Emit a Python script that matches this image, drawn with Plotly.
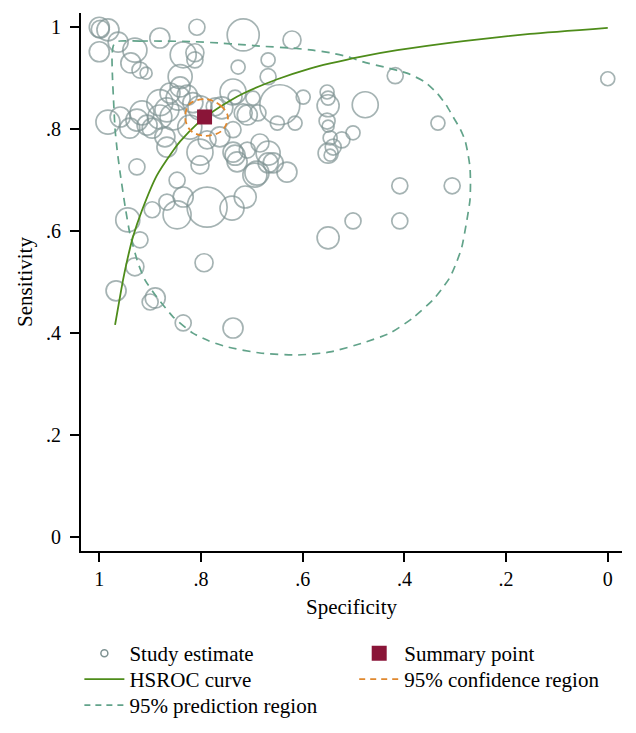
import plotly.graph_objects as go

# ---- Study estimates (specificity, sensitivity, relative study weight) ----
study_spec = [1.000, 0.998, 0.983, 1.000, 0.963, 0.930, 0.938, 0.920, 0.908, 0.881,
              0.808, 0.835, 0.812, 0.812, 0.841, 0.841, 0.861, 0.881, 0.867, 0.845,
              0.827, 0.816, 0.855, 0.916, 0.926, 0.906, 0.881, 0.983, 0.940, 0.959,
              0.896, 0.871, 0.822, 0.717, 0.621, 0.727, 0.668, 0.668, 0.737, 0.733,
              0.698, 0.645, 0.599, 0.552, 0.550, 0.550, 0.717, 0.688, 0.650, 0.615,
              0.552, 0.550, 0.546, 0.501, 0.477, 0.418, 0.000, 0.334, 0.523, 0.540,
              0.409, 0.306, 0.501, 0.409, 0.550, 0.550, 0.546, 0.694, 0.668, 0.631,
              0.733, 0.709, 0.788, 0.739, 0.713, 0.794, 0.926, 0.867, 0.847, 0.835,
              0.867, 0.896, 0.847, 0.944, 0.920, 0.930, 0.967, 0.890, 0.900, 0.835,
              0.737, 0.802, 0.802, 0.737, 0.729, 0.684, 0.668, 0.658, 0.690, 0.763,
              0.709, 0.737, 0.788, 0.802, 0.772, 0.759]
study_sens = [1.000, 0.996, 0.995, 0.952, 0.971, 0.955, 0.930, 0.916, 0.910, 0.979,
              1.000, 0.946, 0.950, 0.936, 0.903, 0.883, 0.871, 0.852, 0.838, 0.861,
              0.867, 0.852, 0.824, 0.832, 0.818, 0.808, 0.824, 0.814, 0.802, 0.824,
              0.802, 0.785, 0.804, 0.985, 0.975, 0.922, 0.936, 0.903, 0.873, 0.863,
              0.861, 0.848, 0.863, 0.873, 0.861, 0.846, 0.832, 0.832, 0.812, 0.812,
              0.816, 0.806, 0.783, 0.793, 0.848, 0.905, 0.899, 0.812, 0.779, 0.765,
              0.689, 0.689, 0.620, 0.620, 0.587, 0.753, 0.749, 0.710, 0.734, 0.716,
              0.749, 0.759, 0.647, 0.645, 0.667, 0.538, 0.726, 0.765, 0.700, 0.667,
              0.657, 0.642, 0.632, 0.622, 0.583, 0.530, 0.483, 0.469, 0.461, 0.420,
              0.410, 0.755, 0.730, 0.755, 0.736, 0.773, 0.753, 0.734, 0.714, 0.785,
              0.828, 0.799, 0.779, 0.842, 0.844, 0.842]
study_weight = [1.0, 0.9, 1.1, 1.0, 1.0, 1.2, 1.0, 0.8, 0.6, 1.0,
                0.8, 1.3, 0.9, 0.8, 1.2, 1.0, 1.0, 1.3, 1.2, 1.2,
                1.0, 1.0, 1.3, 1.2, 1.1, 1.0, 1.2, 1.2, 1.0, 1.0,
                1.0, 1.0, 1.2, 1.6, 0.9, 0.7, 0.7, 0.8, 1.3, 0.7,
                0.7, 2.0, 0.7, 0.7, 0.7, 1.1, 0.9, 0.8, 0.7, 0.7,
                0.8, 0.6, 0.7, 0.7, 1.3, 0.8, 0.7, 0.7, 0.8, 0.8,
                0.8, 0.8, 0.8, 0.8, 1.1, 1.0, 0.6, 1.2, 1.0, 1.0,
                1.0, 0.8, 2.0, 1.2, 1.1, 0.9, 0.8, 1.0, 0.8, 1.0,
                0.8, 0.8, 1.4, 1.2, 0.8, 0.9, 1.0, 1.0, 0.8, 0.8,
                1.0, 1.3, 0.9, 1.0, 1.0, 0.9, 1.2, 1.0, 1.2, 1.0,
                1.0, 0.8, 0.9, 1.2, 0.9, 1.1]

# ---- Summary point ----
summary_spec = [0.793]
summary_sens = [0.824]

# ---- HSROC curve ----
hsroc_spec = [0.969, 0.953, 0.944, 0.934, 0.916, 0.887, 0.857, 0.841, 0.806, 0.782,
              0.743, 0.717, 0.650, 0.586, 0.546, 0.487, 0.414, 0.284, 0.153, 0.000]
hsroc_sens = [0.416, 0.506, 0.548, 0.588, 0.641, 0.709, 0.755, 0.776, 0.812, 0.831,
              0.856, 0.870, 0.898, 0.919, 0.929, 0.942, 0.955, 0.973, 0.987, 0.999]

# ---- 95% confidence region ----
conf_spec = [0.790, 0.761, 0.747, 0.759, 0.790, 0.820, 0.831, 0.822, 0.790]
conf_sens = [0.859, 0.846, 0.824, 0.797, 0.787, 0.797, 0.822, 0.850, 0.859]

# ---- 95% prediction region ----
pred_spec = [0.959, 0.920, 0.881, 0.820, 0.763, 0.720, 0.684, 0.619, 0.580, 0.546,
             0.510, 0.481, 0.440, 0.395, 0.360, 0.336, 0.318, 0.304, 0.290, 0.281,
             0.275, 0.271, 0.270, 0.271, 0.277, 0.287, 0.297, 0.310, 0.326, 0.344,
             0.383, 0.428, 0.481, 0.546, 0.611, 0.684, 0.749, 0.785, 0.816, 0.855,
             0.887, 0.910, 0.924, 0.940, 0.949, 0.959, 0.965, 0.969, 0.972, 0.974,
             0.975, 0.973, 0.968, 0.959]
pred_sens = [0.973, 0.973, 0.973, 0.972, 0.969, 0.966, 0.963, 0.959, 0.955, 0.950,
             0.942, 0.932, 0.922, 0.910, 0.893, 0.871, 0.848, 0.824, 0.800, 0.779,
             0.752, 0.726, 0.694, 0.661, 0.622, 0.569, 0.540, 0.510, 0.487, 0.465,
             0.430, 0.400, 0.381, 0.363, 0.357, 0.361, 0.373, 0.385, 0.400, 0.432,
             0.471, 0.504, 0.538, 0.596, 0.647, 0.714, 0.760, 0.800, 0.857, 0.900,
             0.942, 0.962, 0.971, 0.973]

tick_vals = [0, 0.2, 0.4, 0.6, 0.8, 1]
tick_text = ["0", ".2", ".4", ".6", ".8", "1"]

CIRCLE = "#7f9393"
GREEN = "#4e8c1a"
TEAL = "#62a38a"
ORANGE = "#e0882e"
MAROON = "#8a1538"
FONT = "Liberation Serif"

fig = go.Figure()

fig.add_trace(go.Scatter(
    x=study_spec, y=study_sens, mode="markers", showlegend=False,
    marker=dict(size=study_weight, sizemode="diameter", sizeref=0.05,
                symbol="circle-open", color=CIRCLE, line=dict(width=1.7, color=CIRCLE))))

fig.add_trace(go.Scatter(
    x=pred_spec, y=pred_sens, mode="lines", showlegend=False,
    line=dict(color=TEAL, width=1.7, dash="8px,6px", shape="spline", smoothing=0.6)))

fig.add_trace(go.Scatter(
    x=hsroc_spec, y=hsroc_sens, mode="lines", showlegend=False,
    line=dict(color=GREEN, width=1.8, shape="spline", smoothing=0.6)))

fig.add_trace(go.Scatter(
    x=conf_spec, y=conf_sens, mode="lines", showlegend=False,
    line=dict(color=ORANGE, width=1.8, dash="6px,4px", shape="spline", smoothing=1.0)))

fig.add_trace(go.Scatter(
    x=summary_spec, y=summary_sens, mode="markers", showlegend=False,
    marker=dict(symbol="square", size=15, color=MAROON)))

# legend entries (one legend per entry for exact placement)
fig.add_trace(go.Scatter(x=[None], y=[None], mode="markers", name="Study estimate",
                         legend="legend",
                         marker=dict(symbol="circle-open", size=7, color=CIRCLE,
                                     line=dict(width=1.5, color=CIRCLE))))
fig.add_trace(go.Scatter(x=[None], y=[None], mode="lines", name="HSROC curve",
                         legend="legend2", line=dict(color=GREEN, width=1.8)))
fig.add_trace(go.Scatter(x=[None], y=[None], mode="lines", name="95% prediction region",
                         legend="legend3", line=dict(color=TEAL, width=1.7, dash="6px,5px")))
fig.add_trace(go.Scatter(x=[None], y=[None], mode="markers", name="Summary point",
                         legend="legend4", marker=dict(symbol="square", size=15, color=MAROON)))
fig.add_trace(go.Scatter(x=[None], y=[None], mode="lines", name="95% confidence region",
                         legend="legend5", line=dict(color=ORANGE, width=1.8, dash="6px,5px")))

axis_common = dict(
    showgrid=False, zeroline=False, showline=True, linecolor="black", linewidth=2,
    ticks="outside", ticklen=9, tickwidth=1.5, tickcolor="black",
    tickvals=tick_vals, ticktext=tick_text, automargin=False,
    tickfont=dict(family=FONT, size=20, color="black"),
)


def leg(x, y):
    return dict(x=x, y=y, xanchor="left", yanchor="top", orientation="v",
                bgcolor="rgba(0,0,0,0)", font=dict(family=FONT, size=21, color="black"),
                itemwidth=40)


col1, col2 = -0.003, 0.505
row1, row2, row3 = -0.1524, -0.2007, -0.2491

fig.update_layout(
    width=636, height=733,
    margin=dict(l=81, r=14, t=13, b=182, autoexpand=False),
    paper_bgcolor="white", plot_bgcolor="white",
    font=dict(family=FONT, size=21, color="black"),
    xaxis=dict(range=[1.036, -0.028], ticklabelstandoff=0,
               title=dict(text="Specificity", standoff=10, font=dict(family=FONT, size=21)),
               **axis_common),
    yaxis=dict(range=[-0.0275, 1.028], ticklabelstandoff=5,
               title=dict(text="Sensitivity", standoff=8, font=dict(family=FONT, size=21)),
               **axis_common),
    legend=leg(col1, row1),
    legend2=leg(col1, row2),
    legend3=leg(col1, row3),
    legend4=leg(col2, row1),
    legend5=leg(col2, row2),
)

fig.write_html("out.html", config={"displayModeBar": False},
               post_script="document.body.style.margin='0';document.body.style.padding='0';")
